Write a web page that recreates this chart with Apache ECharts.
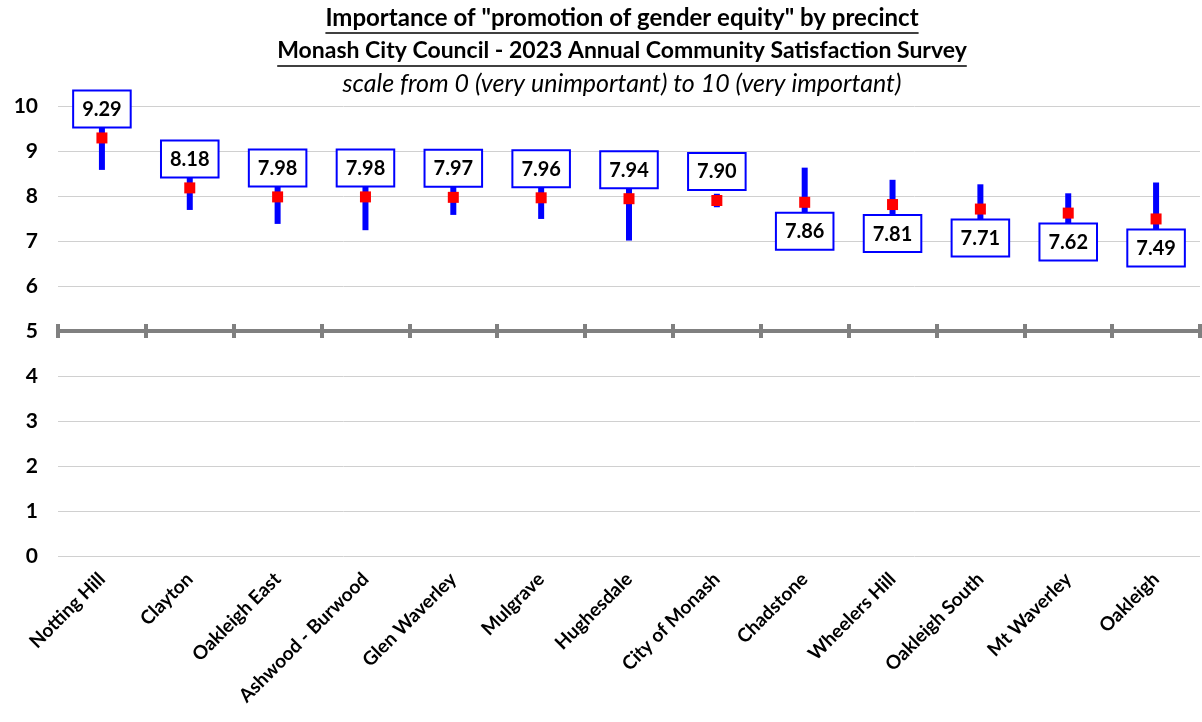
<!DOCTYPE html>
<html>
<head>
<meta charset="utf-8">
<script src="https://cdn.jsdelivr.net/npm/echarts@6/dist/echarts.min.js"></script>
<style>
  html, body { margin: 0; padding: 0; background: #fff; }
  #chart { width: 1202px; height: 722px; }
</style>
</head>
<body>
<div id="chart"></div>
<script>
// precincts, mean score and the ends of each error bar
const precincts = ['Notting Hill', 'Clayton', 'Oakleigh East', 'Ashwood - Burwood', 'Glen Waverley', 'Mulgrave',
  'Hughesdale', 'City of Monash', 'Chadstone', 'Wheelers Hill', 'Oakleigh South', 'Mt Waverley', 'Oakleigh']
const means = [9.29, 8.18, 7.98, 7.98, 7.97, 7.96, 7.94, 7.90, 7.86, 7.81, 7.71, 7.62, 7.49]
const lows = [8.58, 7.69, 7.38, 7.24, 7.58, 7.49, 7.01, 7.75, 7.09, 7.26, 7.16, 7.18, 6.68]
const highs = [10.0, 8.67, 8.58, 8.72, 8.36, 8.43, 8.87, 8.05, 8.63, 8.36, 8.26, 8.06, 8.30]
const yTicks = [0, 1, 2, 3, 4, 5, 6, 7, 8, 9, 10]

const titleLines = [
  'Importance of "promotion of gender equity" by precinct',
  'Monash City Council - 2023 Annual Community Satisfaction Survey',
  'scale from 0 (very unimportant) to 10 (very important)'
]

const FONT = 'Lato, "Open Sans", sans-serif'
const gridTop = 106
const gridHeight = 450
const crossAt = 5
const yMin = yTicks[0]
const yMax = yTicks[yTicks.length - 1]
const crossOffset = -gridHeight * (crossAt - yMin) / (yMax - yMin)
const titleCenter = 622

// measure title widths so the underlines fit the text
const ctx = document.createElement('canvas').getContext('2d')
function textWidth(str, font) {
  ctx.font = font
  return ctx.measureText(str).width
}

const chart = echarts.init(document.getElementById('chart'))

const titleTops = [6, 39, 71]
const titleSizes = [24, 23, 25]
const underlines = []
for (let i = 0; i < 2; i++) {
  const w = textWidth(titleLines[i], 'bold ' + titleSizes[i] + 'px ' + FONT)
  underlines.push({
    type: 'line',
    shape: { x1: titleCenter - w / 2, y1: titleTops[i] + 27, x2: titleCenter + w / 2, y2: titleTops[i] + 27 },
    style: { stroke: '#000', lineWidth: 1.5 }
  })
}

const tickStyle = { color: '#808080', width: 4 }

let option = {
  animation: false,
  title: titleLines.map((t, i) => ({
    text: t,
    left: titleCenter,
    textAlign: 'center',
    top: titleTops[i],
    padding: 0,
    textStyle: {
      fontFamily: FONT,
      fontSize: titleSizes[i],
      fontWeight: i < 2 ? 'bold' : 'normal',
      fontStyle: i < 2 ? 'normal' : 'italic',
      color: '#000'
    }
  })),
  graphic: underlines,
  grid: {
    left: 58,
    right: 2,
    top: gridTop,
    height: gridHeight
  },
  xAxis: [
    {
      type: 'category',
      data: precincts,
      position: 'bottom',
      axisLine: { show: false },
      axisTick: { show: false },
      axisLabel: {
        interval: 0,
        rotate: 45,
        margin: 20,
        color: '#000',
        fontFamily: FONT,
        fontWeight: 'bold',
        fontSize: 19
      }
    },
    {
      type: 'category',
      data: precincts,
      position: 'bottom',
      offset: crossOffset,
      axisLine: { show: true, lineStyle: tickStyle },
      axisTick: { show: true, interval: 0, length: 7, lineStyle: tickStyle },
      axisLabel: { show: false }
    },
    {
      type: 'category',
      data: precincts,
      position: 'bottom',
      offset: crossOffset,
      axisLine: { show: false },
      axisTick: { show: true, interval: 0, inside: true, length: 7, lineStyle: tickStyle },
      axisLabel: { show: false }
    }
  ],
  yAxis: {
    type: 'value',
    min: yMin,
    max: yMax,
    interval: 1,
    axisLine: { show: false },
    axisTick: { show: false },
    axisLabel: {
      margin: 20,
      color: '#000',
      fontFamily: FONT,
      fontWeight: 'bold',
      fontSize: 21
    },
    splitLine: { lineStyle: { color: '#d0d0d0', width: 1 } }
  },
  series: [
    {
      name: 'range',
      type: 'custom',
      z: 1,
      data: precincts.map((p, i) => [i, lows[i], highs[i]]),
      renderItem(params, api) {
        const lo = api.coord([api.value(0), api.value(1)])
        const hi = api.coord([api.value(0), api.value(2)])
        return {
          type: 'line',
          shape: { x1: lo[0], y1: lo[1], x2: hi[0], y2: hi[1] },
          style: { stroke: '#0000ff', lineWidth: 6 }
        }
      }
    },
    {
      name: 'mean',
      type: 'scatter',
      z: 3,
      symbol: 'rect',
      symbolSize: 11,
      itemStyle: { color: '#ff0000', opacity: 1 },
      data: means.map((v, i) => ({
        value: [i, v],
        label: { position: i < 8 ? 'top' : 'bottom' }
      })),
      label: {
        show: true,
        distance: 6,
        opacity: 1,
        formatter: p => p.value[1].toFixed(2),
        color: '#000',
        fontFamily: FONT,
        fontWeight: 'bold',
        fontSize: 20,
        backgroundColor: '#fff',
        borderColor: '#0000ff',
        borderWidth: 2,
        padding: [8, 8, 7, 8]
      }
    }
  ]
}

option && chart.setOption(option)
</script>
</body>
</html>
